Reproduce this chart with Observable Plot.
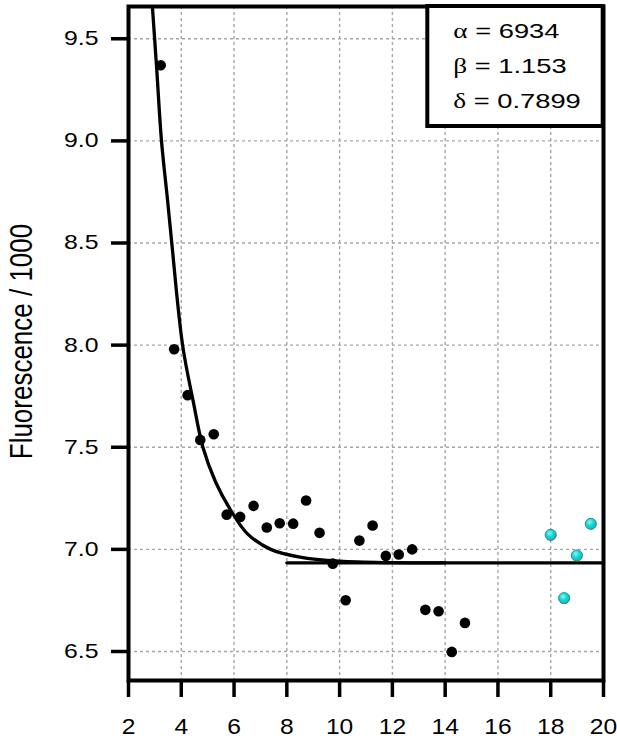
<!DOCTYPE html>
<html>
<head>
<meta charset="utf-8">
<script src="https://cdn.jsdelivr.net/npm/d3@7"></script>
<script src="https://cdn.jsdelivr.net/npm/@observablehq/plot@0.6"></script>
<style>
  html, body { margin: 0; padding: 0; background: #fff; }
  #chart { position: relative; width: 617px; height: 742px; }
  #legend { position: absolute; left: 0; top: 0; }
</style>
</head>
<body>
<div id="chart"></div>
<script>
// ---- data ----
const blackX = [3.22, 3.73, 4.24, 4.72, 5.23, 5.72, 6.23, 6.74, 7.24, 7.73, 8.24, 8.73,
                9.24, 9.74, 10.23, 10.75, 11.25, 11.75, 12.24, 12.75, 13.25, 13.75, 14.25, 14.75];
const blackY = [9.37, 7.98, 7.755, 7.536, 7.564, 7.17, 7.159, 7.213, 7.107, 7.128, 7.126, 7.239,
                7.081, 6.93, 6.751, 7.043, 7.117, 6.968, 6.975, 7.0, 6.704, 6.697, 6.498, 6.64];
const cyanX = [18.0, 18.51, 18.99, 19.52];
const cyanY = [7.071, 6.761, 6.970, 7.125];
// fitted curve
const fitX = [2.85, 3.06, 3.25, 3.48, 3.64, 4.05, 4.46, 4.82, 5.3, 5.88, 6.51, 7.39, 8.5, 10, 12, 14];
const fitY = [9.76, 9.37, 9.0, 8.71, 8.5, 8.0, 7.72, 7.5, 7.33, 7.19, 7.076, 7.0, 6.962, 6.942, 6.935, 6.934];
// asymptote segment
const baseX = [8, 20];
const baseY = [6.934, 6.934];
const xTicks = [2, 4, 6, 8, 10, 12, 14, 16, 18, 20];
const yTicks = [6.5, 7.0, 7.5, 8.0, 8.5, 9.0, 9.5];
const legendNames = ["α", "β", "δ"];
const legendValues = ["6934", "1.153", "0.7899"];
const yTitle = "Fluorescence / 1000";

const black = blackX.map((x, i) => ({x, y: blackY[i]}));
const cyan = cyanX.map((x, i) => ({x, y: cyanY[i]}));
const fit = fitX.map((x, i) => ({x, y: fitY[i]}));
const base = baseX.map((x, i) => ({x, y: baseY[i]}));

const W = 617, H = 742;
const gridStyle = {stroke: "#a6a6a6", strokeOpacity: 1, strokeWidth: 1.4, strokeDasharray: "3,3"};

const svg = Plot.plot({
  width: W, height: H,
  marginLeft: 128, marginRight: 14, marginTop: 6, marginBottom: 62,
  style: {fontFamily: "'Liberation Sans', Arial, sans-serif", background: "#fff", color: "#000"},
  x: {domain: [2, 20]},
  y: {domain: [6.358, 9.658]},
  marks: [
    Plot.gridX(xTicks, gridStyle),
    Plot.gridY(yTicks, gridStyle),
    Plot.line(fit, {x: "x", y: "y", curve: "catmull-rom", stroke: "#000", strokeWidth: 3.3, clip: true}),
    Plot.line(base, {x: "x", y: "y", stroke: "#000", strokeWidth: 3.3}),
    Plot.dot(black, {x: "x", y: "y", r: 5.3, fill: "#000"}),
    Plot.dot(cyan, {x: "x", y: "y", r: 5.6, fill: "url(#cyanGrad)", stroke: "#137a7a", strokeWidth: 0.8}),
    Plot.frame({stroke: "#000", strokeWidth: 4}),
    Plot.axisX(xTicks, {tickSize: 17, strokeWidth: 3.5, tickPadding: 21, fontSize: 22, label: null, tickFormat: d => String(d)}),
    Plot.axisY(yTicks, {tickSize: 17, strokeWidth: 3.5, tickPadding: 13, fontSize: 20, label: null, tickFormat: d3.format(".1f")})
  ]
});

const chart = document.getElementById("chart");
chart.appendChild(svg);

const NS = "http://www.w3.org/2000/svg";
// gradient for the cyan points
const defs = document.createElementNS(NS, "defs");
defs.innerHTML = `<radialGradient id="cyanGrad" cx="0.4" cy="0.35" r="0.7">
  <stop offset="0" stop-color="#8ff4f4"/><stop offset="0.45" stop-color="#1ad6d6"/><stop offset="1" stop-color="#0fb3b3"/>
</radialGradient>`;
svg.insertBefore(defs, svg.firstChild);

// widen tick labels horizontally like the reference
function stretch(sel, s, anchor) {
  svg.querySelectorAll(sel).forEach(t => {
    const b = t.getBBox();
    const ax = anchor === "end" ? b.x + b.width : anchor === "middle" ? b.x + b.width / 2 : b.x;
    const old = t.getAttribute("transform") || "";
    t.setAttribute("transform", `${old} translate(${ax},0) scale(${s},1) translate(${-ax},0)`);
  });
}
stretch('g[aria-label="y-axis tick label"] text', 1.24, "end");
stretch('g[aria-label="x-axis tick label"] text', 1.12, "middle");

// y-axis title
const title = document.createElementNS(NS, "text");
title.textContent = yTitle;
title.setAttribute("transform", "translate(32,341.5) rotate(-90) scale(1,1.2)");
title.setAttribute("text-anchor", "middle");
title.setAttribute("font-size", "26");
title.setAttribute("font-family", "'Liberation Sans', Arial, sans-serif");
title.setAttribute("fill", "#000");
svg.appendChild(title);

// legend box with fit parameters (overlay)
const leg = document.createElementNS(NS, "svg");
leg.setAttribute("id", "legend");
leg.setAttribute("width", W);
leg.setAttribute("height", 140);
const rect = document.createElementNS(NS, "rect");
rect.setAttribute("x", 427.3); rect.setAttribute("y", 6);
rect.setAttribute("width", 602.7 - 427.3); rect.setAttribute("height", 126 - 6);
rect.setAttribute("fill", "#fff"); rect.setAttribute("stroke", "#000"); rect.setAttribute("stroke-width", 4);
leg.appendChild(rect);
const baselines = [38.3, 72.7, 107.5];
legendNames.forEach((n, i) => {
  const t = document.createElementNS(NS, "text");
  t.setAttribute("transform", `translate(453.3,${baselines[i]}) scale(1.3,1)`);
  t.setAttribute("font-size", "21");
  t.setAttribute("fill", "#000");
  const g = document.createElementNS(NS, "tspan");
  g.setAttribute("font-family", "'Liberation Serif', 'Times New Roman', serif");
  g.textContent = n;
  const v = document.createElementNS(NS, "tspan");
  v.setAttribute("font-family", "'Liberation Sans', Arial, sans-serif");
  v.textContent = " = " + legendValues[i];
  t.appendChild(g); t.appendChild(v);
  leg.appendChild(t);
});
chart.appendChild(leg);
</script>
</body>
</html>
